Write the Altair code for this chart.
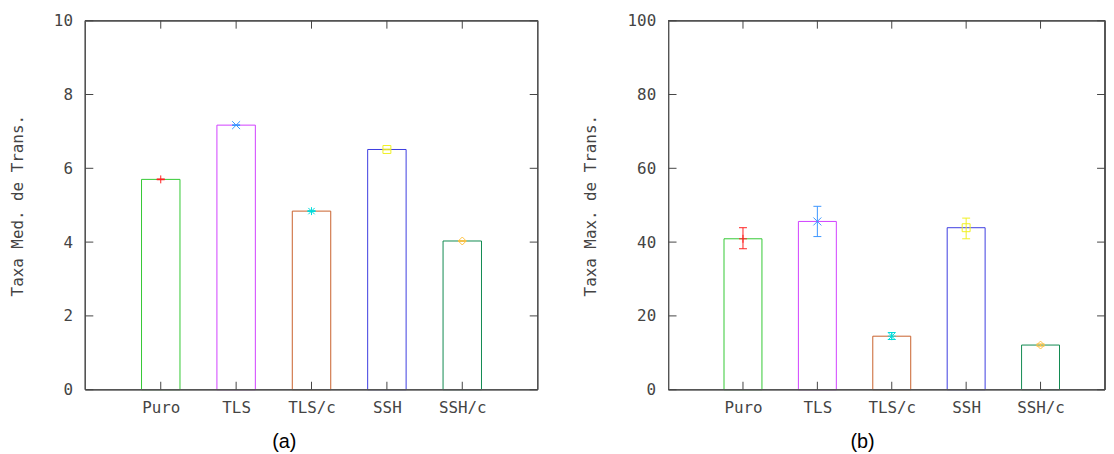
import altair as alt
import pandas as pd

# ---- data ----
categories = ["Puro", "TLS", "TLS/c", "SSH", "SSH/c"]
positions = [1, 2, 3, 4, 5]

med_values = [5.70, 7.17, 4.84, 6.51, 4.03]
med_low = [5.69, 7.16, 4.83, 6.50, 4.02]
med_high = [5.71, 7.18, 4.85, 6.52, 4.04]

max_values = [40.9, 45.6, 14.5, 43.9, 12.1]
max_low = [38.2, 41.5, 13.6, 40.9, 11.8]
max_high = [43.9, 49.7, 15.5, 46.5, 12.4]

med_ticks = [0, 2, 4, 6, 8, 10]
max_ticks = [0, 20, 40, 60, 80, 100]

# ---- styles ----
bar_colors = ["#33c833", "#d040ff", "#c8602c", "#3c3ce0", "#108a50"]
mark_colors = ["#ff2020", "#3c96ff", "#00dcdc", "#f0f020", "#ffc040"]
mark_shapes = [
    "M-1,0L1,0M0,-1L0,1",
    "M-1,-1L1,1M-1,1L1,-1",
    "M-1,0L1,0M0,-1L0,1M-0.8,-0.8L0.8,0.8M-0.8,0.8L0.8,-0.8",
    "square",
    "diamond",
]

MONO = "DejaVu Sans Mono"
FS = 16
label_expr = "[" + ",".join("'%s'" % c for c in categories) + "][datum.value-1]"


def panel(values, low, high, yticks, ytitle, letter, width, height, px_per_unit, title_x, letter_x):
    df = pd.DataFrame({
        "cat": categories, "pos": positions, "val": values, "lo": low, "hi": high,
        "bc": bar_colors, "mc": mark_colors, "shape": mark_shapes,
    })
    xdom = [0, width / px_per_unit]
    xscale = alt.Scale(domain=xdom, nice=False, zero=False)
    yscale = alt.Scale(domain=[yticks[0], yticks[-1]], nice=False)

    xaxis = alt.Axis(
        values=positions, labelExpr=label_expr, ticks=False, tickSize=0, domain=False,
        grid=False, labelPadding=10, labelFont=MONO, labelFontSize=FS, labelColor="#444",
        labelOverlap=False, labelFlush=False, title=letter, titleFont="Liberation Sans",
        titleFontSize=20, titleFontWeight="normal", titleColor="#000", titleX=letter_x,
        titleY=42, titleBaseline="top", titleAlign="center",
    )
    yaxis = alt.Axis(
        values=yticks, ticks=False, tickSize=0, domain=False, grid=False, labelPadding=13,
        labelFont=MONO, labelFontSize=FS, labelColor="#444", labelFlush=False,
        title=ytitle, titleFont=MONO, titleFontSize=FS, titleFontWeight="normal",
        titleColor="#444", titleX=title_x, titleY=height / 2, titleAngle=270,
        titleBaseline="bottom", titleAlign="center",
    )

    base = alt.Chart(df)
    bars = base.transform_calculate(
        x1="datum.pos - 0.255", x2="datum.pos + 0.255"
    ).mark_rect(filled=False, strokeWidth=1).encode(
        x=alt.X("x1:Q", scale=xscale, axis=xaxis),
        x2="x2:Q",
        y=alt.Y("val:Q", scale=yscale, axis=yaxis),
        y2=alt.datum(0),
        stroke=alt.Color("bc:N", scale=None),
    )
    err = base.mark_rule(strokeWidth=1).encode(
        x=alt.X("pos:Q", scale=xscale), y=alt.Y("lo:Q", scale=yscale), y2="hi:Q",
        color=alt.Color("mc:N", scale=None),
    )
    cap_lo = base.mark_point(shape="M-1,0L1,0", size=64, filled=False, strokeWidth=1, opacity=1).encode(
        x=alt.X("pos:Q", scale=xscale), y=alt.Y("lo:Q", scale=yscale),
        color=alt.Color("mc:N", scale=None),
    )
    cap_hi = base.mark_point(shape="M-1,0L1,0", size=64, filled=False, strokeWidth=1, opacity=1).encode(
        x=alt.X("pos:Q", scale=xscale), y=alt.Y("hi:Q", scale=yscale),
        color=alt.Color("mc:N", scale=None),
    )
    marks = base.mark_point(filled=False, size=64, strokeWidth=1, opacity=1).encode(
        x=alt.X("pos:Q", scale=xscale), y=alt.Y("val:Q", scale=yscale),
        color=alt.Color("mc:N", scale=None), shape=alt.Shape("shape:N", scale=None),
    )

    tdf = pd.DataFrame({"t": yticks})
    cdf = pd.DataFrame({"p": positions})
    frame = alt.Chart(tdf).mark_rect(filled=False, stroke="#555", strokeWidth=1).encode(
        x=alt.value(0), x2=alt.value(width), y=alt.value(0), y2=alt.value(height))
    tick_l = alt.Chart(tdf).mark_rule(color="#444").encode(
        y=alt.Y("t:Q", scale=yscale), x=alt.value(0), x2=alt.value(8))
    tick_r = alt.Chart(tdf).mark_rule(color="#444").encode(
        y=alt.Y("t:Q", scale=yscale), x=alt.value(width - 8), x2=alt.value(width))
    tick_b = alt.Chart(cdf).mark_rule(color="#444").encode(
        x=alt.X("p:Q", scale=xscale), y=alt.value(height), y2=alt.value(height - 8))
    tick_t = alt.Chart(cdf).mark_rule(color="#444").encode(
        x=alt.X("p:Q", scale=xscale), y=alt.value(0), y2=alt.value(8))

    return alt.layer(bars, frame, tick_l, tick_r, tick_b, tick_t, err, cap_lo, cap_hi, marks).properties(
        width=width, height=height)


left = panel(med_values, med_low, med_high, med_ticks, "Taxa Med. de Trans.", "(a)",
             456, 372, 76, -60, 200)
right = panel(max_values, max_low, max_high, max_ticks, "Taxa Max. de Trans.", "(b)",
              440, 372, 75, -71, 195)

chart = alt.hconcat(left, right, spacing=44).properties(
    padding={"left": 2, "top": 3, "right": 0, "bottom": 0}
).configure_view(stroke=None)

chart.save("out.html", embed_options={"renderer": "svg", "actions": False})
